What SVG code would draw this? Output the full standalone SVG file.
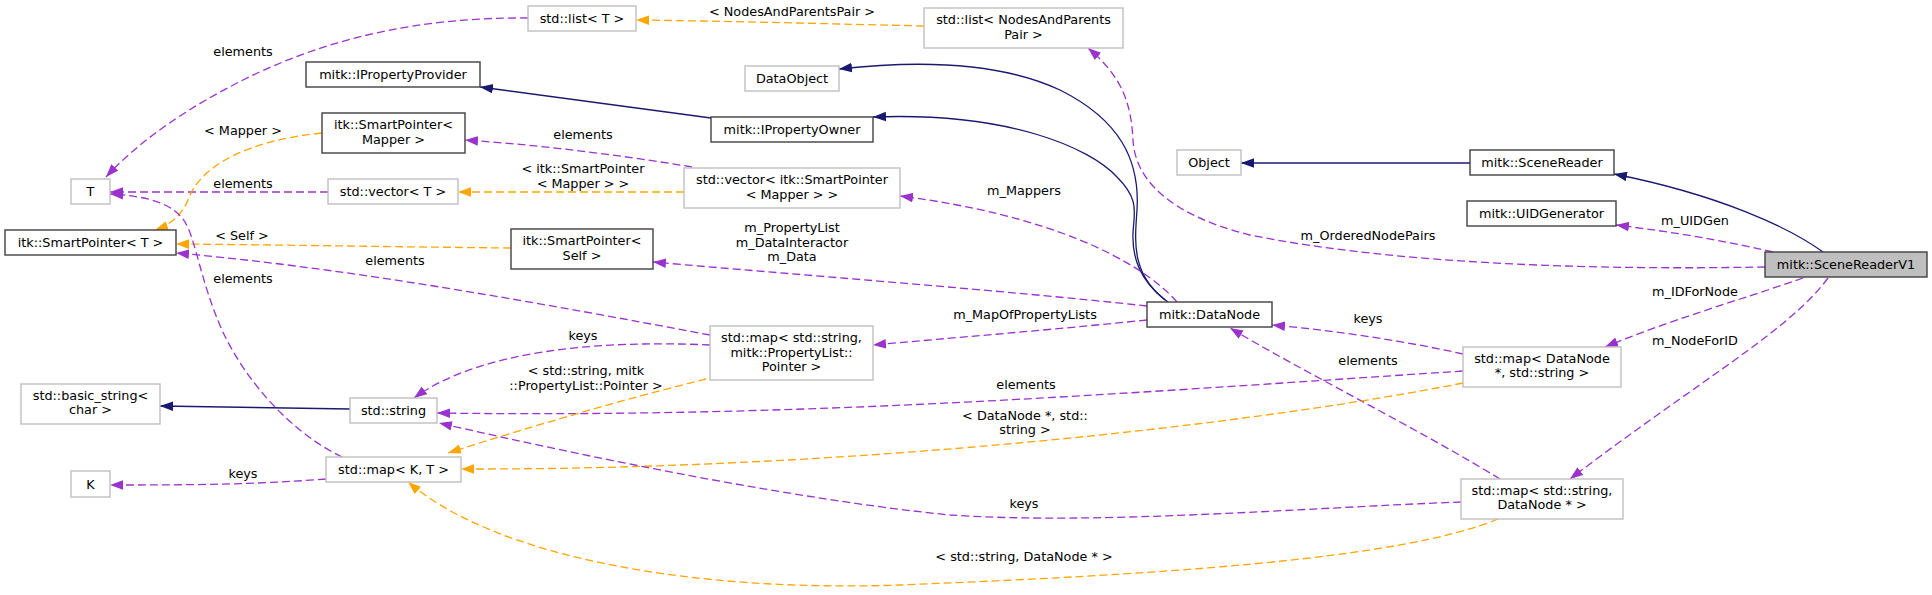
<svg xmlns="http://www.w3.org/2000/svg" width="1932" height="595" viewBox="0 0 1932 595">
<style>
text{font-family:"DejaVu Sans","Liberation Sans",sans-serif;font-size:12.8px;fill:#000;text-anchor:middle}
.g{fill:#fff;stroke:#bfbfbf;stroke-width:1.4}
.b{fill:#fff;stroke:#404040;stroke-width:1.4}
.r{fill:#bfbfbf;stroke:#404040;stroke-width:1.4}
.inh{fill:none;stroke:#191970;stroke-width:1.3;marker-end:url(#aN)}
.use{fill:none;stroke:#9a32cd;stroke-width:1.3;stroke-dasharray:8,4;marker-end:url(#aP)}
.tpl{fill:none;stroke:#ffa500;stroke-width:1.3;stroke-dasharray:8,4;marker-end:url(#aO)}
</style>
<defs>
<marker id="aN" markerUnits="userSpaceOnUse" markerWidth="14" markerHeight="11" refX="13" refY="5" orient="auto"><path d="M0,0.2 L13,5 L0,9.8z" fill="#191970"/></marker>
<marker id="aP" markerUnits="userSpaceOnUse" markerWidth="14" markerHeight="11" refX="13" refY="5" orient="auto"><path d="M0,0.2 L13,5 L0,9.8z" fill="#9a32cd"/></marker>
<marker id="aO" markerUnits="userSpaceOnUse" markerWidth="14" markerHeight="11" refX="13" refY="5" orient="auto"><path d="M0,0.2 L13,5 L0,9.8z" fill="#ffa500"/></marker>
</defs>
<rect width="1932" height="595" fill="#fff"/>
<g id="edges">
<path class="use" d="M528,18 C420,17 330,38 249,77 C190,106 140,140 106,177"/>
<text x="243" y="56">elements</text>
<path class="tpl" d="M924,26 C840,24 720,21 636,20"/>
<text x="792" y="16">&lt; NodesAndParentsPair &gt;</text>
<path class="inh" d="M711,118 L480,87"/>
<path class="inh" d="M1168,302 C1130,275 1135,240 1137,210 C1140,160 1120,120 1060,90 C1000,62 920,60 839,69"/>
<path class="inh" d="M1165,300 C1140,280 1132,258 1133,233 C1134,212 1140,200 1117,177 C1090,148 1010,112 873,117"/>
<path class="inh" d="M1823,252 C1790,228 1720,195 1614,174"/>
<path class="inh" d="M1470,163 L1241,163"/>
<path class="use" d="M1773,252 C1720,240 1680,233 1616,225"/>
<text x="1695" y="225">m_UIDGen</text>
<path class="use" d="M1765,267 C1600,270 1400,265 1250,235 C1170,215 1135,180 1133,140 C1131,100 1120,75 1088,48"/>
<text x="1368" y="240">m_OrderedNodePairs</text>
<path class="use" d="M1803,278 C1740,300 1670,320 1605,347"/>
<text x="1695" y="296">m_IDForNode</text>
<path class="use" d="M1828,278 C1790,330 1700,380 1570,479"/>
<text x="1695" y="345">m_NodeForID</text>
<path class="use" d="M1463,354 C1400,340 1330,330 1272,325"/>
<text x="1368" y="323">keys</text>
<path class="use" d="M1500,479 C1420,430 1300,370 1230,328"/>
<text x="1368" y="365">elements</text>
<path class="use" d="M1463,371 C1100,395 800,418 437,413"/>
<text x="1026" y="389">elements</text>
<path class="tpl" d="M1463,383 C1250,425 850,470 461,469"/>
<text x="1025" y="420">&lt; DataNode *, std::</text>
<text x="1025" y="434">string &gt;</text>
<path class="tpl" d="M1498,519 C1400,560 1150,575 900,585 C700,592 500,560 408,482"/>
<text x="1024" y="561">&lt; std::string, DataNode * &gt;</text>
<path class="use" d="M1461,502 C1300,508 1100,525 950,515 C800,500 600,460 439,423"/>
<text x="1024" y="508">keys</text>
<path class="use" d="M710,345 C600,340 480,350 414,398"/>
<text x="583" y="340">keys</text>
<path class="tpl" d="M706,379 C620,400 520,430 448,453"/>
<text x="586" y="375">&lt; std::string, mitk</text>
<text x="586" y="390">::PropertyList::Pointer &gt;</text>
<path class="use" d="M1147,320 C1050,330 950,338 873,345"/>
<text x="1025" y="319">m_MapOfPropertyLists</text>
<path class="use" d="M1147,306 C1000,290 800,275 653,262"/>
<text x="792" y="232">m_PropertyList</text>
<text x="792" y="247">m_DataInteractor</text>
<text x="792" y="261">m_Data</text>
<path class="use" d="M1177,302 C1140,260 1050,215 900,196"/>
<text x="1024" y="195">m_Mappers</text>
<path class="use" d="M692,167 C620,155 540,145 465,140"/>
<text x="583" y="139">elements</text>
<path class="tpl" d="M684,192 L458,192"/>
<text x="583" y="173">&lt; itk::SmartPointer</text>
<text x="583" y="188">&lt; Mapper &gt; &gt;</text>
<path class="use" d="M328,192 L110,192"/>
<text x="243" y="188">elements</text>
<path class="tpl" d="M322,133 C250,140 200,165 188,200 C182,215 170,225 155,230"/>
<text x="243" y="135">&lt; Mapper &gt;</text>
<path class="tpl" d="M511,248 C400,247 300,245 176,244"/>
<text x="242" y="240">&lt; Self &gt;</text>
<path class="use" d="M710,335 C550,305 350,268 176,253"/>
<text x="395" y="265">elements</text>
<path class="use" d="M342,457 C290,432 245,380 222,330 C200,280 196,240 185,222 C172,202 145,196 110,194"/>
<text x="243" y="283">elements</text>
<path class="use" d="M326,479 C250,485 180,485 110,485"/>
<text x="243" y="478">keys</text>
<path class="inh" d="M350,409 L160,406"/>
</g>
<g id="n_listT"><rect class="g" x="528" y="6" width="108" height="25"/><text x="582" y="23">std::list&lt; T &gt;</text></g>
<g id="n_listNAPP"><rect class="g" x="924" y="8" width="199" height="40"/><text x="1023.5" y="24">std::list&lt; NodesAndParents</text><text x="1023.5" y="39">Pair &gt;</text></g>
<g id="n_IPropertyProvider"><rect class="b" x="306" y="62" width="174" height="25"/><text x="393" y="79">mitk::IPropertyProvider</text></g>
<g id="n_DataObject"><rect class="g" x="745" y="66" width="94" height="25"/><text x="792" y="83">DataObject</text></g>
<g id="n_IPropertyOwner"><rect class="b" x="711" y="117" width="162" height="25"/><text x="792" y="134">mitk::IPropertyOwner</text></g>
<g id="n_SPMapper"><rect class="b" x="322" y="113" width="143" height="40"/><text x="393.5" y="129">itk::SmartPointer&lt;</text><text x="393.5" y="144">Mapper &gt;</text></g>
<g id="n_T"><rect class="g" x="71" y="179" width="39" height="25"/><text x="90.5" y="196">T</text></g>
<g id="n_vectorT"><rect class="g" x="328" y="179" width="130" height="25"/><text x="393" y="196">std::vector&lt; T &gt;</text></g>
<g id="n_vectorSP"><rect class="g" x="684" y="168" width="216" height="40"/><text x="792" y="184">std::vector&lt; itk::SmartPointer</text><text x="792" y="199">&lt; Mapper &gt; &gt;</text></g>
<g id="n_Object"><rect class="g" x="1177" y="150" width="64" height="25"/><text x="1209" y="167">Object</text></g>
<g id="n_SceneReader"><rect class="b" x="1470" y="150" width="144" height="25"/><text x="1542" y="167">mitk::SceneReader</text></g>
<g id="n_UIDGenerator"><rect class="b" x="1467" y="201" width="149" height="25"/><text x="1541.5" y="218">mitk::UIDGenerator</text></g>
<g id="n_SceneReaderV1"><rect class="r" x="1765" y="252" width="162" height="25"/><text x="1846" y="269">mitk::SceneReaderV1</text></g>
<g id="n_SPT"><rect class="b" x="5" y="230" width="171" height="25"/><text x="90.5" y="247">itk::SmartPointer&lt; T &gt;</text></g>
<g id="n_SPSelf"><rect class="b" x="511" y="229" width="142" height="40"/><text x="582" y="245">itk::SmartPointer&lt;</text><text x="582" y="260">Self &gt;</text></g>
<g id="n_DataNode"><rect class="b" x="1147" y="302" width="125" height="25"/><text x="1209.5" y="319">mitk::DataNode</text></g>
<g id="n_mapPL"><rect class="g" x="710" y="326" width="163" height="54"/><text x="791.5" y="342">std::map&lt; std::string,</text><text x="791.5" y="357">mitk::PropertyList::</text><text x="791.5" y="371">Pointer &gt;</text></g>
<g id="n_mapDNS"><rect class="g" x="1463" y="347" width="158" height="40"/><text x="1542" y="363">std::map&lt; DataNode</text><text x="1542" y="377">*, std::string &gt;</text></g>
<g id="n_mapSDN"><rect class="g" x="1461" y="479" width="162" height="40"/><text x="1542" y="495">std::map&lt; std::string,</text><text x="1542" y="509">DataNode * &gt;</text></g>
<g id="n_basic_string"><rect class="g" x="21" y="384" width="139" height="40"/><text x="90.5" y="400">std::basic_string&lt;</text><text x="90.5" y="414">char &gt;</text></g>
<g id="n_string"><rect class="g" x="350" y="398" width="87" height="25"/><text x="393.5" y="415">std::string</text></g>
<g id="n_mapKT"><rect class="g" x="326" y="457" width="135" height="25"/><text x="393.5" y="474">std::map&lt; K, T &gt;</text></g>
<g id="n_K"><rect class="g" x="71" y="471" width="39" height="26"/><text x="90.5" y="489">K</text></g>
</svg>
